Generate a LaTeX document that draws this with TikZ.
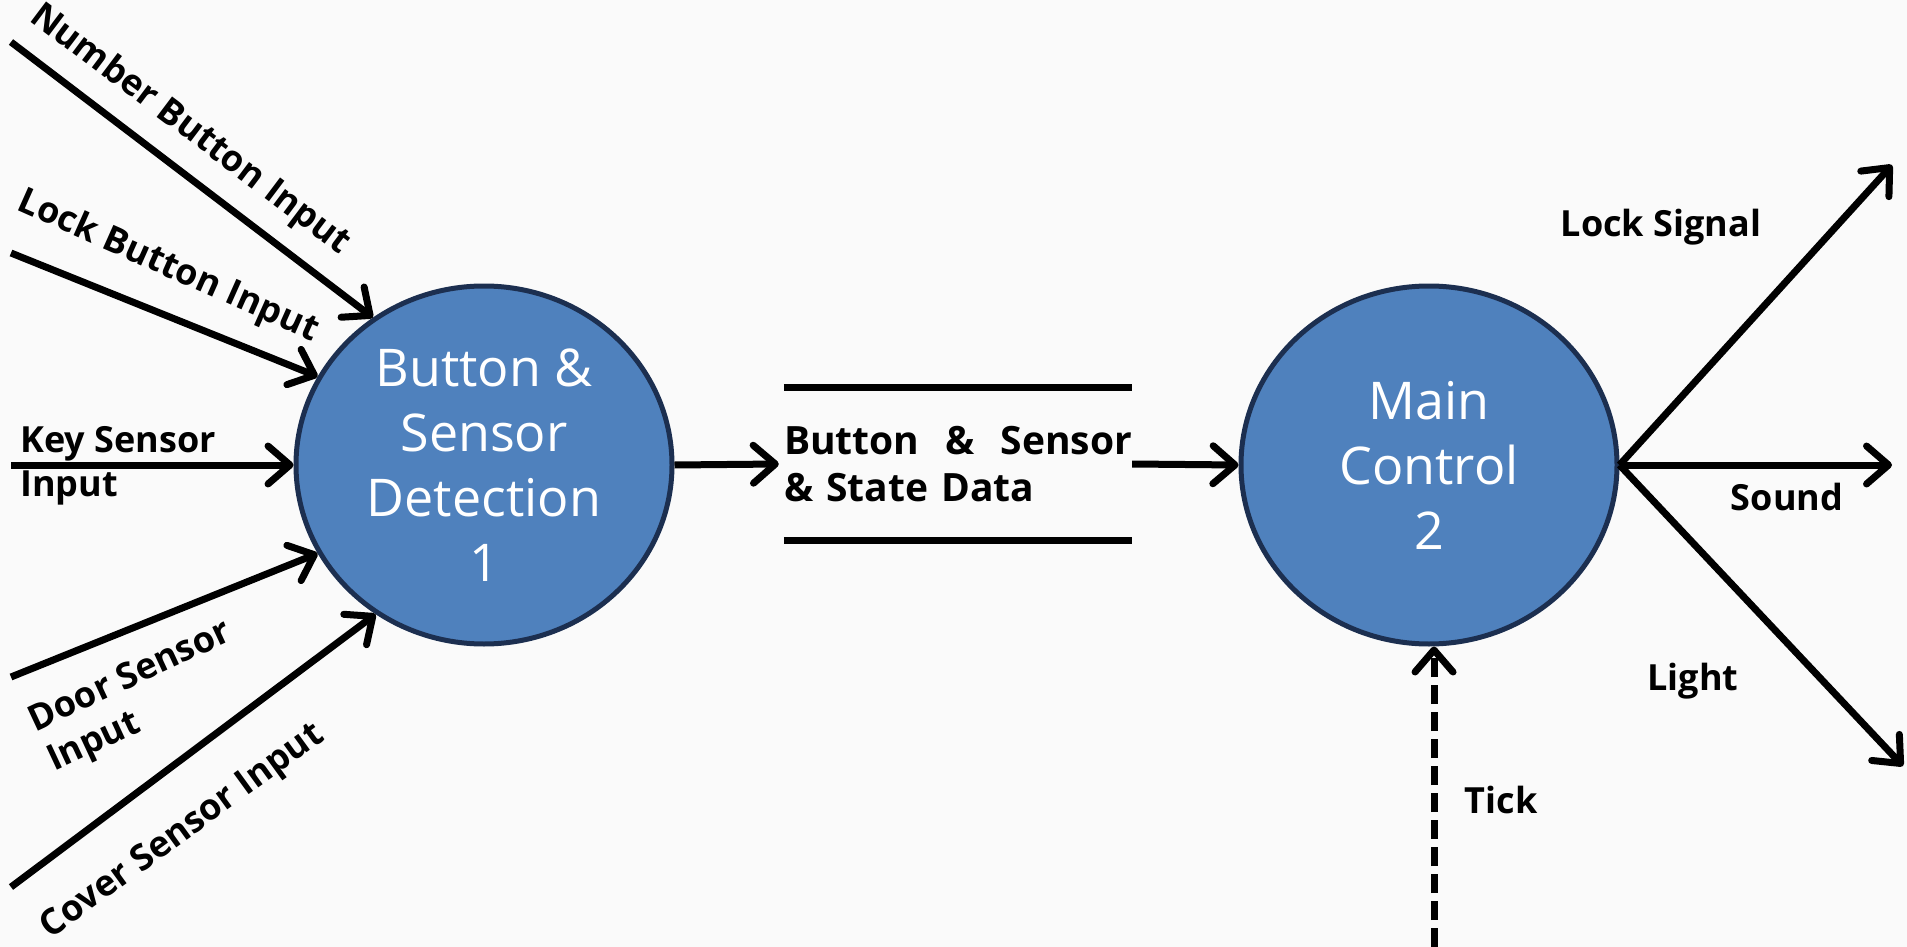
\documentclass[tikz,border=0pt]{standalone}
\usepackage{fontspec}
\setmainfont{Open Sans}
\usetikzlibrary{arrows.meta,shapes.geometric}
\definecolor{procblue}{HTML}{4F81BD}
\definecolor{navyline}{HTML}{1C2F50}
\definecolor{bgcol}{HTML}{FAFAFA}
\begin{document}
\begin{tikzpicture}[x=1pt,y=-1pt,
  proc/.style={ellipse, draw=navyline, line width=5pt, fill=procblue, text=white,
    minimum width=376pt, minimum height=358pt, inner sep=0pt,
    font=\fontsize{52}{65}\selectfont, align=center},
  flow/.style={line width=7pt, -{Straight Barb[round,length=22pt,width=38pt]}},
  lbl/.style={font=\bfseries\fontsize{36}{44}\selectfont, inner sep=0pt},
  storetext/.style={font=\bfseries\fontsize{39}{47}\selectfont, inner sep=0pt},
  storeline/.style={line width=7pt},
]
\fill[bgcol] (0,0) rectangle (1907,947);
\useasboundingbox (0,0) rectangle (1907,947);

\node[proc] (c1) at (484,465) {Button \&\\Sensor\\Detection\\1};
\node[proc] (c2) at (1429,465) {Main\\Control\\2};

% data store
\node[storetext, text width=348pt, minimum height=153pt, align=left] (store) at (958,464)
  {\hbox to 348pt{Button\hfill\&\hfill Sensor}\\\& State Data};
\draw[storeline] (store.north west) -- (store.north east);
\draw[storeline] (store.south west) -- (store.south east);

% inputs
\coordinate (nb) at (11,42);
\coordinate (lb) at (11,253);
\coordinate (ks) at (11,465);
\coordinate (ds) at (11,677);
\coordinate (cs) at (11,887);
\draw[flow] (nb) -- (c1.127);
\draw[flow] (lb) -- (c1.152);
\draw[flow] (ks) -- (c1.west);
\draw[flow] (ds) -- (c1.208);
\draw[flow] (cs) -- (c1.234);

\node[lbl, rotate=-37] (lnb) at (190,130) {Number Button Input};
\node[lbl, rotate=-24] (llb) at (168,267) {Lock Button Input};
\node[lbl, align=left, anchor=west] (lks) at (20,466) {Key Sensor\\Input};
\node[lbl, rotate=25, align=left] (lds) at (140,698) {Door Sensor\\Input};
\node[lbl, rotate=36] (lcs) at (183,832) {Cover Sensor Input};

% middle flows
\draw[flow] (c1.east) -- ([xshift=-5pt]store.west);
\draw[flow] (store.east) -- (c2.west);

% outputs
\coordinate (ls) at (1892,165);
\coordinate (so) at (1892,465);
\coordinate (li) at (1903,766);
\draw[flow] (c2.east) -- (ls);
\draw[flow] (c2.east) -- (so);
\draw[flow] (c2.east) -- (li);
\node[lbl] (lls) at (1661,227) {Lock Signal};
\node[lbl] (lso) at (1787,497) {Sound};
\node[lbl] (lli) at (1693,681) {Light};

% tick
\coordinate (tk) at (1434,947);
\draw[flow, dash pattern=on 19pt off 8pt] (tk) -- (tk |- c2.south);
\node[lbl] (ltk) at (1501,800) {Tick};
\end{tikzpicture}
\end{document}
